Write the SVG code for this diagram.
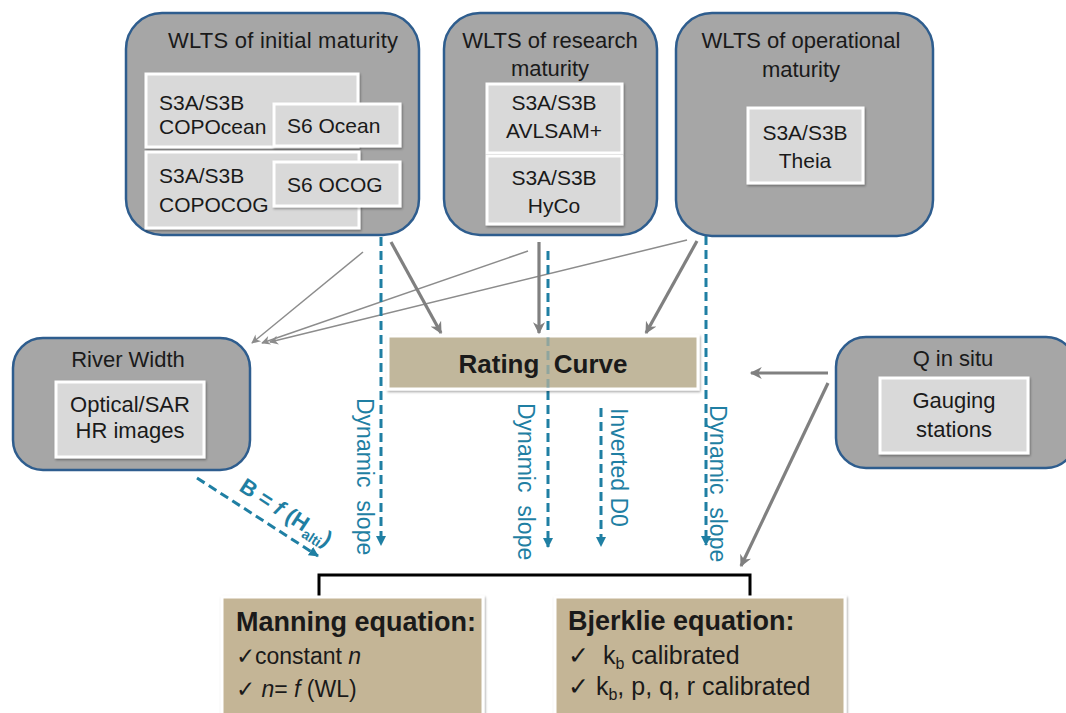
<svg xmlns="http://www.w3.org/2000/svg" width="1066" height="713" viewBox="0 0 1066 713">
<style>
.outer{fill:#a6a6a6;stroke:#2e5d8e;stroke-width:2.5}
.inner{fill:#d9d9d9;stroke:#ffffff;stroke-width:3;filter:url(#sh)}
.t{font-family:"Liberation Sans",Arial,sans-serif;font-size:21px;fill:#1a1a1a}
.h{font-size:22px}
.c{text-anchor:middle}
.b{font-weight:bold}
.blue{font-family:"Liberation Sans",Arial,sans-serif;font-size:23px;fill:#1f7fa3;white-space:pre}
.gthin{stroke:#8c8c8c;stroke-width:1.5;fill:none}
.gthick{stroke:#808080;stroke-width:3.2;fill:none}
.dash{stroke:#1f7fa3;stroke-width:3;stroke-dasharray:9 5;fill:none}
.tan{fill:#c4b596;stroke:#ffffff;stroke-width:3;filter:url(#sh)}
</style>
<defs>
<filter id="sh" x="-10%" y="-10%" width="120%" height="130%">
<feDropShadow dx="1" dy="1.5" stdDeviation="1.2" flood-color="#000" flood-opacity="0.35"/>
</filter>
<marker id="ag" viewBox="0 0 10 10" refX="9" refY="5" markerWidth="11" markerHeight="9" markerUnits="userSpaceOnUse" orient="auto"><path d="M0,0 L10,5 L0,10 L3,5 z" fill="#8c8c8c"/></marker>
<marker id="agk" viewBox="0 0 10 10" refX="9" refY="5" markerWidth="14" markerHeight="12" markerUnits="userSpaceOnUse" orient="auto"><path d="M0,0 L10,5 L0,10 L3,5 z" fill="#808080"/></marker>
<marker id="ab" viewBox="0 0 10 10" refX="9" refY="5" markerWidth="10" markerHeight="10" markerUnits="userSpaceOnUse" orient="auto"><path d="M0,0 L10,5 L0,10 z" fill="#1f7fa3"/></marker>
</defs>

<g id="connectors">
<line class="gthin" x1="363" y1="252" x2="252" y2="343" marker-end="url(#ag)"/>
<line class="gthin" x1="528" y1="251" x2="262" y2="343" marker-end="url(#ag)"/>
<line class="gthin" x1="687" y1="240" x2="270" y2="342" marker-end="url(#ag)"/>
<line class="gthick" x1="391" y1="242" x2="441" y2="333" marker-end="url(#agk)"/>
<line class="gthick" x1="539" y1="242" x2="539" y2="333" marker-end="url(#agk)"/>
<line class="gthick" x1="697" y1="241" x2="646" y2="333" marker-end="url(#agk)"/>
<line class="gthick" x1="828" y1="373" x2="751" y2="373" marker-end="url(#agk)"/>
<line class="gthick" x1="828" y1="383" x2="741" y2="566" marker-end="url(#agk)"/>
<line class="dash" x1="381" y1="237" x2="381" y2="545" marker-end="url(#ab)"/>
<line class="dash" x1="548" y1="251" x2="548" y2="547" marker-end="url(#ab)"/>
<line class="dash" x1="601" y1="408" x2="601" y2="546" marker-end="url(#ab)"/>
<line class="dash" x1="706" y1="236" x2="706" y2="545" marker-end="url(#ab)"/>
<line class="dash" x1="197" y1="478" x2="318" y2="556" marker-end="url(#ab)"/>
<path d="M319,598 V575 H750 V598" fill="none" stroke="#000" stroke-width="3"/>
</g>

<g id="wlts-initial">
<rect class="outer" x="126" y="13" width="293" height="222" rx="36"/>
<text class="t h c" x="283" y="48" textLength="230" lengthAdjust="spacing">WLTS of initial maturity</text>
<rect class="inner" x="146" y="74" width="212" height="73"/>
<text class="t" x="159" y="110">S3A/S3B</text>
<text class="t" x="159" y="134">COPOcean</text>
<rect class="inner" x="274" y="104" width="126" height="42"/>
<text class="t" x="287" y="133">S6 Ocean</text>
<rect class="inner" x="146" y="152" width="213" height="76"/>
<text class="t" x="159" y="183">S3A/S3B</text>
<text class="t" x="159" y="212">COPOCOG</text>
<rect class="inner" x="274" y="162" width="126" height="44"/>
<text class="t" x="287" y="192">S6 OCOG</text>
</g>

<g id="wlts-research">
<rect class="outer" x="444" y="13" width="213" height="222" rx="36"/>
<text class="t h c" x="550" y="48">WLTS of research</text>
<text class="t h c" x="550" y="76">maturity</text>
<rect class="inner" x="487" y="84" width="135" height="69"/>
<text class="t c" x="554" y="110">S3A/S3B</text>
<text class="t c" x="554" y="138">AVLSAM+</text>
<rect class="inner" x="487" y="156" width="135" height="68"/>
<text class="t c" x="554" y="185">S3A/S3B</text>
<text class="t c" x="554" y="213">HyCo</text>
</g>

<g id="wlts-operational">
<rect class="outer" x="676" y="13" width="257" height="223" rx="36"/>
<text class="t h c" x="801" y="48">WLTS of operational</text>
<text class="t h c" x="801" y="77">maturity</text>
<rect class="inner" x="748" y="108" width="115" height="75"/>
<text class="t c" x="805" y="140">S3A/S3B</text>
<text class="t c" x="805" y="168">Theia</text>
</g>

<g id="river-width">
<rect class="outer" x="13" y="338" width="237" height="132" rx="30"/>
<text class="t h c" x="128" y="367">River Width</text>
<rect class="inner" x="56" y="382" width="148" height="75"/>
<text class="t h c" x="130" y="412">Optical/SAR</text>
<text class="t h c" x="130" y="438">HR images</text>
</g>

<g id="q-in-situ">
<rect class="outer" x="836" y="337" width="240" height="131" rx="30"/>
<text class="t h c" x="953" y="366">Q in situ</text>
<rect class="inner" x="880" y="378" width="148" height="75"/>
<text class="t h c" x="954" y="408">Gauging</text>
<text class="t h c" x="954" y="437">stations</text>
</g>

<g id="rating-curve">
<rect x="388" y="336" width="310" height="53" fill="#c1b79c" stroke="#ffffff" stroke-width="3" filter="url(#sh)"/>
<line x1="548" y1="337" x2="548" y2="388" stroke="#1f7fa3" stroke-width="3" stroke-dasharray="9 5" opacity="0.3"/>
<text class="t c b" x="543" y="373" style="font-size:26px;white-space:pre">Rating  Curve</text>
</g>

<g id="labels">
<text class="blue" transform="translate(357,398) rotate(90)">Dynamic  slope</text>
<text class="blue" transform="translate(518,403) rotate(90)">Dynamic  slope</text>
<text class="blue" transform="translate(611,408) rotate(90)">Inverted D0</text>
<text class="blue" transform="translate(710,405) rotate(90)">Dynamic  slope</text>
<text class="blue b" transform="translate(238,490) rotate(33)" style="font-size:22px;white-space:normal">B = <tspan font-style="italic">f</tspan> (H<tspan font-size="14" dy="5">alti</tspan><tspan dy="-5">)</tspan></text>
</g>

<g id="manning">
<rect class="tan" x="222" y="597" width="261" height="120"/>
<text class="t b" x="236" y="631" style="font-size:27px">Manning equation:</text>
<text class="t" x="236" y="664" style="font-size:23px">✓constant <tspan font-style="italic">n</tspan></text>
<text class="t" x="236" y="697" style="font-size:23px">✓ <tspan font-style="italic">n</tspan>= <tspan font-style="italic">f</tspan> (WL)</text>
</g>

<g id="bjerklie">
<rect class="tan" x="555" y="597" width="290" height="120"/>
<text class="t b" x="568" y="630" style="font-size:27px">Bjerklie equation:</text>
<text class="t" x="568" y="664" style="font-size:25px;white-space:pre">✓  k<tspan font-size="16" dy="5">b</tspan><tspan dy="-5"> calibrated</tspan></text>
<text class="t" x="568" y="695" style="font-size:25px">✓ k<tspan font-size="16" dy="5">b</tspan><tspan dy="-5">, p, q, r calibrated</tspan></text>
</g>
</svg>
